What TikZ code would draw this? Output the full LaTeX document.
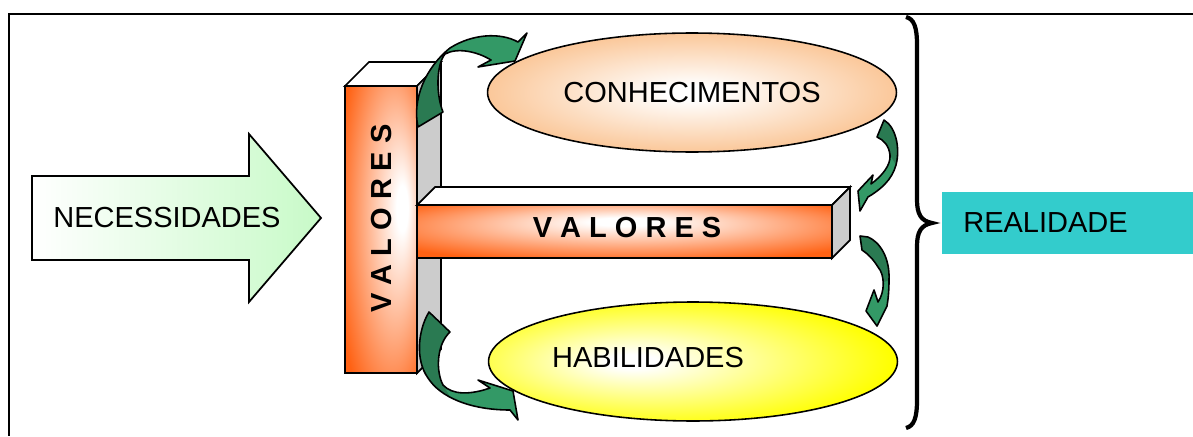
\documentclass[tikz,border=0pt]{standalone}
\usepackage{fontspec}
\setmainfont{Liberation Sans}
\usetikzlibrary{shapes.geometric}

\definecolor{barorange}{RGB}{255,98,20}
\definecolor{peach}{RGB}{250,192,140}
\definecolor{sidegray}{RGB}{204,204,204}
\definecolor{arrdark}{RGB}{42,122,82}
\definecolor{arrlight}{RGB}{51,153,102}
\definecolor{paleg}{RGB}{200,250,200}
\definecolor{realcyan}{RGB}{51,204,204}

\pgfdeclareradialshading{hbarshade}{\pgfpoint{0bp}{10bp}}{color(0bp)=(white); color(4bp)=(white); color(33bp)=(barorange); color(50bp)=(barorange)}
\pgfdeclareradialshading{vbarshade}{\pgfpoint{16bp}{4bp}}{color(0bp)=(white); color(4bp)=(white); color(36bp)=(barorange); color(50bp)=(barorange)}
\pgfdeclareradialshading{conshade}{\pgfpoint{0bp}{0bp}}{color(0bp)=(white); color(3bp)=(white); color(28bp)=(peach); color(50bp)=(peach)}
\pgfdeclareradialshading{habshade}{\pgfpoint{-8bp}{0bp}}{color(0bp)=(white); color(3bp)=(white); color(28bp)=(yellow); color(50bp)=(yellow)}

\newcommand{\bendarrow}[2]{\fill[arrlight] #1; \fill[arrdark] #2; \draw[arrline] #1;}

\begin{document}
\begin{tikzpicture}[x=0.02cm, y=-0.02cm, every node/.style={font=\fontsize{16.5}{19}\selectfont},
  edge/.style={draw=black, line width=1pt},
  sideface/.style={edge, fill=sidegray},
  topface/.style={edge, fill=white},
  bartext/.style={font=\fontsize{16.5}{19}\selectfont\bfseries},
  blob/.style={ellipse, draw, line width=0.9pt, shade, minimum width=8.18cm, minimum height=2.38cm, inner sep=0pt},
  arrline/.style={draw=black, line width=0.9pt, line join=round}]
  \useasboundingbox (0,0) rectangle (1193,436);
  \draw[line width=1pt] (1193,14) -- (9,14) -- (9,436);

  \draw[edge, left color=white, right color=paleg] (32,176) -- (249,176) -- (249,134) -- (321,218) -- (249,302) -- (249,260) -- (32,260) -- cycle;
  \node (nec) at (167,218) {NECESSIDADES};

  \draw[topface] (345,86) -- (369,62) -- (441,62) -- (417,86) -- cycle;
  \draw[sideface] (417,86) -- (441,62) -- (441,349) -- (417,373) -- cycle;
  \draw[edge, shade, shading=vbarshade] (345,86) rectangle (417,373);
  \node[bartext, rotate=90] (vval) at (382,218.5) {V A L O R E S};

  \draw[topface] (417,205) -- (435,187) -- (850,187) -- (832,205) -- cycle;
  \draw[sideface] (832,205) -- (850,187) -- (850,240) -- (832,258) -- cycle;
  \draw[edge, shade, shading=hbarshade] (417,205) rectangle (832,258);
  \node[bartext] (hval) at (627,227.5) {V A L O R E S};

  \node[blob, shading=conshade] (con) at (692,92.5) {CONHECIMENTOS};
  \node[blob, shading=habshade] (hab) at (693,361.5) {};
  \node (habtxt) at (648,358) {HABILIDADES};

  \node[fill=realcyan, anchor=west, text width=4.18cm, align=left, inner xsep=0.42cm, minimum height=1.24cm] (real) at (942,223) {REALIDADE};

  \draw[line width=2.4pt] (906,17) .. controls (914,19) and (917,27) .. (917,45) -- (917,200) .. controls (917,214) and (921,221) .. (932,223) .. controls (921,225) and (917,232) .. (917,246) -- (917,400) .. controls (917,418) and (914,426) .. (906,428);

  \bendarrow{(418,127) .. controls (412,100) and (425,68) .. (450,48) .. controls (472,34) and (500,32) .. (518,42) -- (527,33) -- (515,61) -- (478,67) -- (491,60) .. controls (478,52) and (458,47) .. (445,54) .. controls (436,65) and (436,95) .. (443,112) -- cycle}
    {(418,127) .. controls (412,100) and (425,68) .. (450,48) -- (445,54) .. controls (436,65) and (436,95) .. (443,112) -- cycle}
  \bendarrow{(429,312) .. controls (418,330) and (415,360) .. (428,378) .. controls (440,397) and (470,410) .. (510,410) -- (518,420) -- (513,391) -- (478,380) -- (490,388) .. controls (470,395) and (452,395) .. (443,385) .. controls (436,372) and (436,345) .. (450,332) -- cycle}
    {(429,312) .. controls (418,330) and (415,360) .. (428,378) .. controls (432.8,385.6) and (440.5,392.2) .. (450.5,397.4) -- (443,385) .. controls (436,372) and (436,345) .. (450,332) -- cycle}
  \bendarrow{(884,120) .. controls (897,128) and (900,150) .. (896,165) .. controls (892,180) and (880,190) .. (868,197) -- (860,211) -- (858,191) -- (873,175) -- (871,184) .. controls (882,176) and (891,165) .. (890,155) .. controls (889,146) and (884,140) .. (877,137) -- cycle}
    {(884,120) .. controls (897,128) and (900,150) .. (896,165) -- (890,155) .. controls (889,146) and (884,140) .. (877,137) -- cycle}
  \bendarrow{(860,236) -- (868,237) .. controls (880,242) and (890,258) .. (889,280) .. controls (889,292) and (888,300) .. (887,306) -- (877,326) -- (866,311) -- (874,290) -- (878,302) .. controls (885,292) and (885,275) .. (878,267) .. controls (873,259) and (868,254) .. (862,250) -- cycle}
    {(860,236) -- (868,237) .. controls (880,242) and (890,258) .. (889,280) -- (884,282) .. controls (884,276) and (882,270) .. (878,267) .. controls (873,259) and (868,254) .. (862,250) -- cycle}
\end{tikzpicture}
\end{document}
